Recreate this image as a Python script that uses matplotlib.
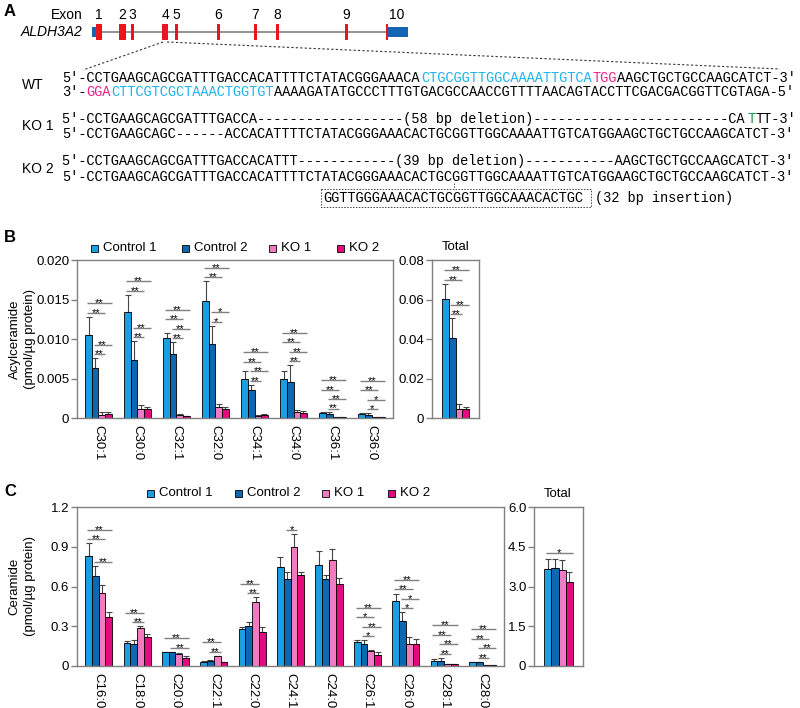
import matplotlib
matplotlib.use('Agg')
import matplotlib.pyplot as plt
from matplotlib.patches import Rectangle
import numpy as np

plt.rcParams['font.family'] = ['Liberation Sans', 'DejaVu Sans']
plt.rcParams['font.size'] = 9.5

# ---------------- data ----------------
groups = ['Control 1', 'Control 2', 'KO 1', 'KO 2']
colors = ['#1a9fe3', '#0d68b1', '#f07bc1', '#e4097f']

# gene structure (relative positions along the gene)
utrs = [(0, 5), (295, 316)]
exons = [(4, 10), (27, 34), (39, 42), (70, 76), (83, 86),
         (125, 128), (162, 165), (184, 187), (253, 256), (294, 295.5)]
exon_names = ['1', '2', '3', '4', '5', '6', '7', '8', '9', '10']

# sequences: list of (text, colour key)
seq_rows = {
    'WT_top': [('5′-CCTGAAGCAGCGATTTGACCACATTTTCTATACGGGAAACA', 'k'),
               ('CTGCGGTTGGCAAAATTGTCA', 'c'), ('TGG', 'm'),
               ('AAGCTGCTGCCAAGCATCT-3′', 'k')],
    'WT_bot': [('3′-', 'k'), ('GGA', 'm'), ('CTTCGTCGCTAAACTGGTGT', 'c'),
               ('AAAAGATATGCCCTTTGTGACGCCAACCGTTTTAACAGTACCTTCGACGACGGTTCGTAGA-5′', 'k')],
    'KO1_a': [('5′-CCTGAAGCAGCGATTTGACCA' + '-' * 18 + '(58 bp deletion)' + '-' * 24 + 'CA', 'k'),
              ('T', 'g'), ('TT-3′', 'k')],
    'KO1_b': [('5′-CCTGAAGCAGC------ACCACATTTTCTATACGGGAAACACTGCGGTTGGCAAAATTGTCATGGAAGCTGCTGCCAAGCATCT-3′', 'k')],
    'KO2_a': [('5′-CCTGAAGCAGCGATTTGACCACATTT' + '-' * 12 + '(39 bp deletion)' + '-' * 11 + 'AAGCTGCTGCCAAGCATCT-3′', 'k')],
    'KO2_b': [('5′-CCTGAAGCAGCGATTTGACCACATTTTCTATACGGGAAACACTGCGGTTGGCAAAATTGTCATGGAAGCTGCTGCCAAGCATCT-3′', 'k')],
}
insertion_seq = 'GGTTGGGAAACACTGCGGTTGGCAAACACTGC'
insertion_note = '(32 bp insertion)'
seq_colors = {'k': 'black', 'c': '#1db4ec', 'm': '#e8238c', 'g': '#1e9a3c'}

# panel B: acylceramide (pmol/ug protein)
acyl_species = ['C30:1', 'C30:0', 'C32:1', 'C32:0', 'C34:1', 'C34:0', 'C36:1', 'C36:0']
acyl_c1 = [0.0105, 0.0134, 0.0101, 0.0148, 0.0049, 0.0050, 0.0006, 0.0005]
acyl_c2 = [0.0063, 0.0073, 0.0081, 0.0094, 0.0036, 0.0045, 0.0005, 0.0004]
acyl_ko1 = [0.0004, 0.0011, 0.0004, 0.0014, 0.0003, 0.0007, 0.0001, 0.0001]
acyl_ko2 = [0.0005, 0.0012, 0.0002, 0.0012, 0.0004, 0.0006, 0.0001, 0.0001]
acyl_c1_sd = [0.0023, 0.0022, 0.0007, 0.0025, 0.0011, 0.0009, 0.0001, 0.0001]
acyl_c2_sd = [0.0013, 0.0024, 0.0015, 0.0023, 0.0006, 0.0022, 0.0002, 0.0002]
acyl_ko1_sd = [0.0004, 0.0005, 0.0001, 0.0004, 0.0001, 0.0003, 0.00003, 0.00003]
acyl_ko2_sd = [0.0003, 0.0002, 0.0001, 0.0002, 0.0001, 0.0003, 0.00003, 0.00003]
acyl_total = [0.0605, 0.0405, 0.0045, 0.0045]
acyl_total_sd = [0.0075, 0.0100, 0.0024, 0.0012]

# panel C: ceramide (pmol/ug protein)
cer_species = ['C16:0', 'C18:0', 'C20:0', 'C22:1', 'C22:0', 'C24:1', 'C24:0',
               'C26:1', 'C26:0', 'C28:1', 'C28:0']
cer_c1 = [0.833, 0.171, 0.105, 0.033, 0.279, 0.750, 0.765, 0.181, 0.488, 0.038, 0.028]
cer_c2 = [0.682, 0.166, 0.105, 0.040, 0.300, 0.659, 0.657, 0.166, 0.340, 0.040, 0.028]
cer_ko1 = [0.553, 0.284, 0.094, 0.072, 0.480, 0.896, 0.800, 0.113, 0.164, 0.012, 0.010]
cer_ko2 = [0.372, 0.216, 0.060, 0.030, 0.259, 0.684, 0.619, 0.085, 0.164, 0.012, 0.008]
cer_c1_sd = [0.093, 0.017, 0.003, 0.005, 0.016, 0.070, 0.103, 0.012, 0.053, 0.012, 0.002]
cer_c2_sd = [0.073, 0.034, 0.003, 0.003, 0.030, 0.048, 0.030, 0.027, 0.065, 0.023, 0.004]
cer_ko1_sd = [0.058, 0.016, 0.006, 0.004, 0.038, 0.100, 0.080, 0.005, 0.058, 0.002, 0.001]
cer_ko2_sd = [0.038, 0.024, 0.015, 0.003, 0.036, 0.029, 0.043, 0.023, 0.041, 0.004, 0.001]
cer_total = [3.65, 3.69, 3.62, 3.17]
cer_total_sd = [0.38, 0.36, 0.38, 0.39]

# significance: group index -> list of (bar i, bar j, label), lowest first
all4 = [(1, 2, '**'), (1, 3, '**'), (0, 2, '**'), (0, 3, '**')]
mix4 = [(1, 2, '*'), (1, 3, '*'), (0, 2, '**'), (0, 3, '**')]
acyl_sig = {0: all4, 1: all4, 2: all4, 3: mix4, 4: all4, 5: all4, 6: all4, 7: mix4}
acyl_total_sig = {0: all4}
cer_sig = {0: [(1, 3, '**'), (0, 2, '**'), (0, 3, '**')],
           1: [(1, 2, '**'), (0, 2, '**')],
           2: [(1, 3, '**'), (0, 3, '**')],
           3: [(1, 2, '**'), (0, 2, '**')],
           4: [(1, 2, '**'), (0, 2, '**')],
           5: [(1, 2, '*')],
           7: [(1, 2, '*'), (1, 3, '**'), (0, 2, '*'), (0, 3, '**')],
           8: mix4, 9: all4, 10: all4}
cer_total_sig = {0: [(0, 3, '*')]}

# ---------------- figure ----------------
W, H = 800, 708
fig = plt.figure(figsize=(8, 7.08), dpi=100)
fig.patch.set_facecolor('white')


def px_axes(x0, y0, x1, y1):
    return fig.add_axes([x0 / W, 1 - y1 / H, (x1 - x0) / W, (y1 - y0) / H])


ov = fig.add_axes([0, 0, 1, 1], zorder=5)
ov.set_xlim(0, W)
ov.set_ylim(H, 0)
ov.axis('off')

# panel letters
for lab, y in [('A', 12), ('B', 238), ('C', 491)]:
    ov.text(4, y, lab, fontsize=12, fontweight='bold', va='center', ha='left')

# ---- panel A: gene diagram ----
gax = px_axes(92, 19.5, 408, 44.5)
gax.set_xlim(0, 316)
gax.set_ylim(-12.5, 12.5)
gax.axis('off')
gax.plot([0, 316], [0, 0], color='#808080', lw=1.2, zorder=1)
for s, e in utrs:
    gax.add_patch(Rectangle((s, -5), e - s, 10, facecolor='#1464b4', edgecolor='none', zorder=2))
for s, e in exons:
    gax.add_patch(Rectangle((s, -8), e - s, 16, facecolor='#e8141e', edgecolor='none', zorder=3))
for k, (s, e) in enumerate(exons):
    cx = (s + e) / 2 if k < len(exons) - 1 else (s + utrs[-1][1]) / 2
    gax.text(cx, 17, exon_names[k], ha='center', va='center', fontsize=10, clip_on=False)
ov.text(83, 15, 'Exon', ha='right', va='center', fontsize=10)
ov.text(82, 32, 'ALDH3A2', ha='right', va='center', fontsize=10, style='italic')

# dotted zoom lines from exon 4
ov.plot([163, 83], [42, 70], color='#333333', lw=0.8, ls=(0, (2, 2)))
ov.plot([167, 780], [42, 69], color='#333333', lw=0.8, ls=(0, (2, 2)))

# sequences
x0, cw = 62.0, 8.16
mono = ['Liberation Mono', 'DejaVu Sans Mono']
mono_fs = cw / 0.6 * 72 / 100


def seq_line(row, y):
    idx = 0
    for txt, ck in row:
        ov.text(x0 + idx * cw, y, txt, family=mono, fontsize=mono_fs,
                color=seq_colors[ck], ha='left', va='center')
        idx += len(txt)


seq_line(seq_rows['WT_top'], 78)
seq_line(seq_rows['WT_bot'], 92.5)
seq_line(seq_rows['KO1_a'], 119)
seq_line(seq_rows['KO1_b'], 134.5)
seq_line(seq_rows['KO2_a'], 161)
seq_line(seq_rows['KO2_b'], 177)
ov.text(x0 + 32 * cw, 198, insertion_seq, family=mono, fontsize=mono_fs, ha='left', va='center')
ov.text(x0 + 65.3 * cw, 198, insertion_note, family=mono, fontsize=mono_fs, ha='left', va='center')
ov.add_patch(Rectangle((x0 + 31.8 * cw, 189), 33 * cw, 18, facecolor='none',
                       edgecolor='#444444', lw=0.7, ls=(0, (1.5, 1.5))))
ov.plot([x0 + 48 * cw] * 2, [183, 189], color='#444444', lw=0.7, ls=(0, (1.5, 1.5)))

for lab, y in [('WT', 85), ('KO 1', 126.5), ('KO 2', 169)]:
    ov.text(22, y, lab, ha='left', va='center', fontsize=10)


# ---- bar chart helper ----
def style_axes(ax, ticks, ticklabels, ylim):
    ax.set_ylim(*ylim)
    ax.set_yticks(ticks)
    ax.set_yticklabels(ticklabels)
    for sp in ax.spines.values():
        sp.set_color('#808080')
        sp.set_linewidth(1.0)
    ax.tick_params(axis='y', direction='out', length=4, width=1, color='#808080', pad=1.5, labelsize=9.5)
    ax.tick_params(axis='x', length=0, pad=5, labelsize=9.5)


def bars(ax, means, sds, width, sigs, pad, step):
    means = np.asarray(means, dtype=float)
    sds = np.asarray(sds, dtype=float)
    n = means.shape[1]
    x = np.arange(n)
    offs = (np.arange(4) - 1.5) * width
    for k in range(4):
        ax.bar(x + offs[k], means[k], width, color=colors[k], edgecolor='black',
               linewidth=0.6, zorder=2)
        ax.errorbar(x + offs[k], means[k], yerr=[np.zeros(n), sds[k]], fmt='none',
                    ecolor='#444444', elinewidth=0.8, capsize=2, capthick=0.8, zorder=1)
    tops = means + sds
    for g, comps in sigs.items():
        prev = None
        for i, j, lab in comps:
            y = tops[i:j + 1, g].max() + pad
            if prev is not None:
                y = max(y, prev + step)
            prev = y
            xa = g + offs[i] - 0.25 * width
            xb = g + offs[j] + 0.5 * width
            ax.plot([xa, xb], [y, y], color='#808080', lw=1, solid_capstyle='butt',
                    clip_on=False, zorder=3)
            ax.annotate(lab, ((xa + xb) / 2, y), xytext=(0, -2.2), textcoords='offset points',
                        ha='center', va='baseline', fontsize=8, annotation_clip=False)


def legend(xs, y):
    for k, xl in enumerate(xs):
        ov.add_patch(Rectangle((xl, y - 3.5), 7, 7, facecolor=colors[k], edgecolor='black', lw=0.6))
        ov.text(xl + 12, y, groups[k], ha='left', va='center', fontsize=9.5)


# ---- panel B ----
bax = px_axes(77, 260, 393, 418)
bars(bax, [acyl_c1, acyl_c2, acyl_ko1, acyl_ko2],
     [acyl_c1_sd, acyl_c2_sd, acyl_ko1_sd, acyl_ko2_sd], 0.168, acyl_sig, 0.0005, 0.0012)
style_axes(bax, [0, 0.005, 0.010, 0.015, 0.020], ['0', '0.005', '0.010', '0.015', '0.020'], (0, 0.02))
bax.set_xlim(-0.55, 7.55)
bax.set_xticks(np.arange(len(acyl_species)))
bax.set_xticklabels(acyl_species, rotation=270, ha='center', va='top')

btax = px_axes(432, 260, 479, 418)
bars(btax, np.array(acyl_total)[:, None], np.array(acyl_total_sd)[:, None], 0.142,
     acyl_total_sig, 0.002, 0.0048)
style_axes(btax, [0, 0.02, 0.04, 0.06, 0.08], ['0', '0.02', '0.04', '0.06', '0.08'], (0, 0.08))
btax.set_xlim(-0.5, 0.5)
btax.set_xticks([])
ov.text(456, 247, 'Total', ha='center', va='center', fontsize=9.5)
legend([91, 182, 269, 337], 248)
ov.text(15, 339, 'Acylceramide', rotation=90, ha='center', va='center', fontsize=9.5)
ov.text(30, 339, '(pmol/µg protein)', rotation=90, ha='center', va='center', fontsize=9.5)

# ---- panel C ----
cax = px_axes(77, 507, 504, 666)
bars(cax, [cer_c1, cer_c2, cer_ko1, cer_ko2],
     [cer_c1_sd, cer_c2_sd, cer_ko1_sd, cer_ko2_sd], 0.177, cer_sig, 0.03, 0.072)
style_axes(cax, [0, 0.3, 0.6, 0.9, 1.2], ['0', '0.3', '0.6', '0.9', '1.2'], (0, 1.2))
cax.set_xlim(-0.565, 10.555)
cax.set_xticks(np.arange(len(cer_species)))
cax.set_xticklabels(cer_species, rotation=270, ha='center', va='top')

ctax = px_axes(534, 507, 583, 666)
bars(ctax, np.array(cer_total)[:, None], np.array(cer_total_sd)[:, None], 0.143,
     cer_total_sig, 0.2, 0.36)
style_axes(ctax, [0, 1.5, 3.0, 4.5, 6.0], ['0', '1.5', '3.0', '4.5', '6.0'], (0, 6))
ctax.set_xlim(-0.5, 0.5)
ctax.set_xticks([])
ov.text(558, 494, 'Total', ha='center', va='center', fontsize=9.5)
legend([147, 235, 322, 388], 493)
ov.text(14, 586, 'Ceramide', rotation=90, ha='center', va='center', fontsize=9.5)
ov.text(30, 586, '(pmol/µg protein)', rotation=90, ha='center', va='center', fontsize=9.5)

fig.savefig('out.png', dpi=100)
